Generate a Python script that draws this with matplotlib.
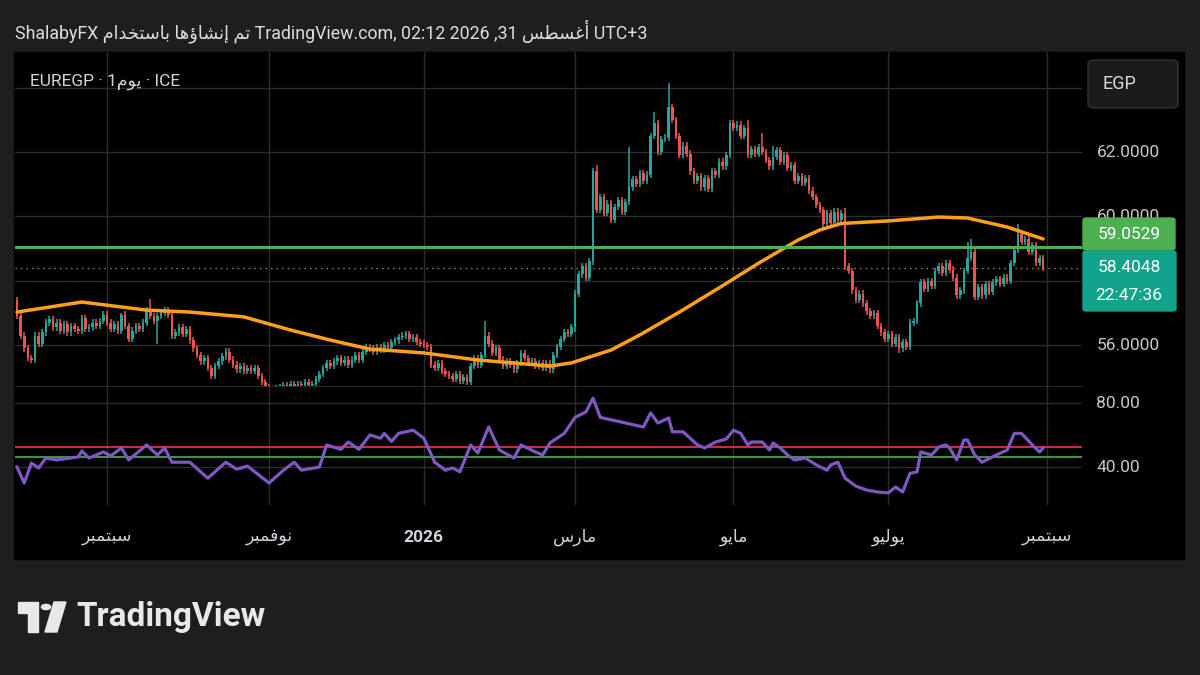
import numpy as np
import pandas as pd
import matplotlib
matplotlib.use("Agg")
import matplotlib.pyplot as plt
from matplotlib.patches import Rectangle, FancyBboxPatch, Polygon, Circle
from matplotlib.transforms import blended_transform_factory

# ---- data -------------------------------------------------------------------
FIRST_DAY = "2025-07-28"
FIRST_OPEN = 57.40

closes = [
    56.90, 56.30, 55.90, 55.60, 55.55, 56.30, 56.05, 56.40, 56.70, 56.80,
    56.55, 56.70, 56.45, 56.65, 56.40, 56.60, 56.50, 56.45, 56.85, 56.50,
    56.55, 56.70, 56.60, 56.75, 56.95, 56.70, 56.50, 56.65, 56.45, 56.95,
    56.60, 56.20, 56.45, 56.60, 56.50, 56.70, 57.10, 56.90, 56.75, 56.90,
    57.00, 57.10, 56.95, 56.30, 56.40, 56.55, 56.35, 56.50, 56.15, 55.90,
    55.70, 55.50, 55.60, 55.30, 55.05, 55.35, 55.50, 55.65, 55.80, 55.55,
    55.40, 55.25, 55.35, 55.20, 55.30, 55.20, 55.30, 55.05, 54.85, 54.70,
    54.60, 54.55, 54.65, 54.70, 54.75, 54.65, 54.80, 54.70, 54.80, 54.75,
    54.85, 54.75, 54.80, 54.95, 55.10, 55.30, 55.45, 55.35, 55.50, 55.60,
    55.45, 55.55, 55.40, 55.55, 55.70, 55.55, 55.80, 55.95, 55.90, 55.80,
    55.95, 55.85, 56.00, 55.90, 56.10, 56.15, 56.25, 56.30, 56.35, 56.20,
    56.25, 56.10, 56.05, 56.00, 55.95, 55.40, 55.30, 55.45, 55.20, 55.10,
    55.05, 54.95, 55.10, 54.90, 55.00, 54.85, 55.35, 55.60, 55.40, 55.70,
    56.30, 56.05, 55.75, 55.90, 55.55, 55.35, 55.50, 55.40, 55.25, 55.45,
    55.75, 55.60, 55.45, 55.50, 55.35, 55.45, 55.30, 55.45, 55.25, 55.70,
    55.95, 56.20, 56.40, 56.35, 56.55, 57.60, 58.20, 58.45, 58.10, 58.60,
    61.40, 60.20, 60.60, 60.10, 60.40, 59.90, 60.30, 60.50, 60.15, 60.45,
    60.90, 61.15, 61.00, 61.35, 61.10, 61.30, 62.50, 62.90, 62.00, 62.40,
    62.45, 63.40, 63.00, 62.50, 61.90, 62.20, 61.95, 61.40, 61.10, 61.25,
    60.90, 61.20, 60.85, 61.40, 61.30, 61.70, 61.55, 61.90, 62.90, 62.75,
    62.85, 62.50, 62.75, 61.90, 62.10, 61.95, 62.15, 62.00, 61.75, 61.55,
    61.85, 62.05, 61.70, 61.90, 61.50, 61.60, 61.10, 61.25, 61.05, 61.20,
    60.80, 60.60, 60.35, 60.20, 59.75, 60.10, 59.80, 60.15, 59.90, 60.10,
    58.45, 58.30, 57.70, 57.40, 57.60, 57.30, 57.05, 56.90, 57.00, 56.60,
    56.40, 56.20, 56.35, 56.05, 56.25, 55.90, 56.10, 55.95, 56.70, 56.75,
    57.30, 57.95, 57.75, 58.00, 57.85, 58.30, 58.45, 58.25, 58.55, 58.35,
    58.10, 57.55, 57.70, 58.30, 58.70, 58.90, 57.50, 57.80, 57.55, 57.90,
    57.65, 57.95, 58.05, 57.90, 58.10, 58.00, 58.55, 58.95, 59.45, 59.20,
    59.30, 58.90, 59.10, 58.55, 58.70, 58.4048,
]

WICK = 0.10   # usual wick length beyond the body
high_wicks = {0: 57.50, 29: 57.00, 37: 57.45, 130: 56.75, 161: 61.60, 170: 62.15,
              177: 63.25, 181: 64.15, 198: 63.00, 203: 63.00, 207: 62.60,
              210: 62.20, 230: 60.25, 264: 59.20, 265: 59.30, 278: 59.75}
low_wicks = {39: 56.05, 155: 56.40, 245: 55.75}

# moving average (bar, value)
ma_bars = [0, 18, 36, 48, 63, 76, 87, 98, 113, 128, 141, 148, 154, 165, 173,
           184, 195, 206, 217, 223, 229, 242, 256, 264, 275, 285]
ma_vals = [57.03, 57.34, 57.09, 57.03, 56.88, 56.47, 56.16, 55.88, 55.76, 55.54,
           55.42, 55.35, 55.45, 55.85, 56.32, 57.03, 57.78, 58.55, 59.27, 59.58,
           59.78, 59.86, 59.98, 59.95, 59.67, 59.30]

# RSI (bar, value)
rsi_bars = [0, 2, 4, 6, 8, 11, 17, 18, 20, 24, 26, 29, 31, 36, 39, 41, 43, 48, 53,
            58, 61, 64, 70, 74, 77, 79, 84, 86, 90, 92, 95, 98, 101, 102, 104, 106,
            110, 113, 116, 119, 121, 123, 126, 128, 131, 134, 138, 140, 144, 146,
            148, 152, 155, 158, 160, 162, 168, 174, 176, 178, 181, 182, 185, 189,
            191, 194, 197, 199, 201, 203, 204, 207, 209, 210, 212, 214, 216, 219,
            222, 225, 226, 228, 230, 233, 236, 239, 242, 244, 246, 248, 250, 251,
            254, 256, 258, 259, 261, 263, 264, 266, 268, 272, 275, 277, 279, 282,
            284, 285]
rsi_vals = [40, 30, 42.5, 39.4, 45.6, 44.4, 46.3, 50, 45.6, 49.4, 46.9, 51.9, 44.4,
            53.8, 47.5, 51.9, 43, 43, 33, 43, 38.6, 40.6, 30, 38, 43, 38, 40, 53.8,
            51, 55.6, 51, 60, 58, 61, 56, 61, 63, 58, 43, 38, 39.4, 37, 53.8, 48.8,
            65, 50.6, 45.6, 53.8, 49.4, 47.5, 55, 61, 71, 74.4, 83, 71, 68, 65,
            73.8, 67.5, 70.6, 62, 62, 53.8, 51.9, 55.6, 57.5, 63, 61, 53.8, 55.6,
            55.6, 50.6, 55, 51.9, 47.5, 44.4, 45.6, 41.3, 38, 41.3, 43, 33, 28,
            25.6, 24.4, 23.8, 27.5, 24.4, 36, 37, 49.4, 47.5, 52.5, 53.8, 51.9,
            44.4, 56.9, 56.9, 47.5, 43, 47.5, 50.6, 61, 61, 53.8, 49.4, 51.9]
RSI_UPPER = 52.7
RSI_LOWER = 46.4

level_price = 59.0529
last_price = 58.4048
countdown = "22:47:36"

month_starts = ["2025-09-01", "2025-11-01", "2026-01-01", "2026-03-01",
                "2026-05-01", "2026-07-01", "2026-09-01"]
month_names = ["سبتمبر", "نوفمبر", "2026", "مارس", "مايو", "يوليو", "سبتمبر"]
price_ticks = [62, 60, 56]
rsi_ticks = [80, 40]

# ---- minimal arabic shaping (matplotlib draws glyphs left to right) ---------
FORMS = {
    'ا': ('\uFE8D', '\uFE8E', None, None), 'أ': ('\uFE83', '\uFE84', None, None),
    'إ': ('\uFE87', '\uFE88', None, None), 'ؤ': ('\uFE85', '\uFE86', None, None),
    'ب': ('\uFE8F', '\uFE90', '\uFE91', '\uFE92'), 'ت': ('\uFE95', '\uFE96', '\uFE97', '\uFE98'),
    'خ': ('\uFEA5', '\uFEA6', '\uFEA7', '\uFEA8'), 'د': ('\uFEA9', '\uFEAA', None, None),
    'ر': ('\uFEAD', '\uFEAE', None, None), 'س': ('\uFEB1', '\uFEB2', '\uFEB3', '\uFEB4'),
    'ش': ('\uFEB5', '\uFEB6', '\uFEB7', '\uFEB8'), 'ط': ('\uFEC1', '\uFEC2', '\uFEC3', '\uFEC4'),
    'غ': ('\uFECD', '\uFECE', '\uFECF', '\uFED0'), 'ف': ('\uFED1', '\uFED2', '\uFED3', '\uFED4'),
    'ل': ('\uFEDD', '\uFEDE', '\uFEDF', '\uFEE0'), 'م': ('\uFEE1', '\uFEE2', '\uFEE3', '\uFEE4'),
    'ن': ('\uFEE5', '\uFEE6', '\uFEE7', '\uFEE8'), 'ه': ('\uFEE9', '\uFEEA', '\uFEEB', '\uFEEC'),
    'و': ('\uFEED', '\uFEEE', None, None), 'ي': ('\uFEF1', '\uFEF2', '\uFEF3', '\uFEF4'),
}


def ar(text):
    if not any(ch in FORMS for ch in text):
        return text
    out = []
    for k, ch in enumerate(text):
        if ch not in FORMS:
            out.append(ch)
            continue
        prev = text[k - 1] if k > 0 else ''
        nxt = text[k + 1] if k + 1 < len(text) else ''
        jp = prev in FORMS and FORMS[prev][2] is not None
        jn = nxt in FORMS and FORMS[ch][2] is not None
        iso, fin, ini, med = FORMS[ch]
        out.append(med if (jp and jn) else fin if jp else ini if jn else iso)
    return ''.join(out)[::-1]


FONT = ['Roboto', 'DejaVu Sans']
TXT = '#d1d4dc'
GRID = '#2c2c2c'
UP, DOWN = '#26a69a', '#ef5350'
W, H = 1200, 675


def fx(x):
    return x / W


def fy(y):
    return 1 - y / H


fig = plt.figure(figsize=(12, 6.75), dpi=100, facecolor='#1e1e1e')
fig.add_artist(Rectangle((fx(14), fy(559)), fx(1184 - 14), (559 - 52) / H,
                         transform=fig.transFigure, color='#000000', zorder=0))

L, R = 15, 1082
ax = fig.add_axes([fx(L), fy(386), fx(R - L), (386 - 52) / H])
ax2 = fig.add_axes([fx(L), fy(505), fx(R - L), (505 - 386) / H])
for a in (ax, ax2):
    a.set_facecolor('#000000')
    for s in a.spines.values():
        s.set_visible(False)
    a.set_xticks([])
    a.set_yticks([])
    a.set_xlim(-0.56, 295.8)
ax.set_ylim(54.733, 65.106)
ax2.set_ylim(16.25, 90.625)

dates = pd.bdate_range(FIRST_DAY, "2026-09-01")
tick_pos = dates.searchsorted(pd.to_datetime(month_starts))

# grid
for a in (ax, ax2):
    for p in tick_pos:
        a.axvline(p, color=GRID, lw=1, zorder=1)
for v in [64] + price_ticks + [58]:
    ax.axhline(v, color=GRID, lw=1, zorder=1)
for v in rsi_ticks:
    ax2.axhline(v, color=GRID, lw=1, zorder=1)
ax2.axhline(90.625, color='#333333', lw=1.2, zorder=1)

# candles
c = np.array(closes)
n = len(c)
x = np.arange(n)
o = np.r_[FIRST_OPEN, c[:-1]]
hi = np.maximum(o, c) + WICK
lo = np.minimum(o, c) - WICK
for k, v in high_wicks.items():
    hi[k] = v
for k, v in low_wicks.items():
    lo[k] = v
cols = np.where(c >= o, UP, DOWN)
ax.vlines(x, lo, hi, colors=cols, lw=1.1, zorder=3)
ax.bar(x, np.maximum(np.abs(c - o), 0.03), bottom=np.minimum(o, c), width=0.72,
       color=cols, zorder=3, linewidth=0)

ax.plot(ma_bars, ma_vals, color='#ff9f1c', lw=2.5, zorder=4, solid_capstyle='round')
ax.axhline(level_price, color='#4caf50', lw=2.2, zorder=5)
ax.axhline(last_price, color='#8a8a8a', lw=1, ls=(0, (1, 3)), zorder=2)

ax2.axhline(RSI_UPPER, color='#f23645', lw=1.2, zorder=3)
ax2.axhline(RSI_LOWER, color='#4caf50', lw=1.2, zorder=3)
ax2.plot(rsi_bars, rsi_vals, color='#7e57c2', lw=2.3, zorder=4)

# right scale
tr = blended_transform_factory(ax.transAxes, ax.transData)
for v in price_ticks:
    ax.text(1.0135, v, f"{v:.4f}", transform=tr, color='#c8c8c8', fontsize=12.5,
            family=FONT, va='center', ha='left', clip_on=False)
tr2 = blended_transform_factory(ax2.transAxes, ax2.transData)
for v in rsi_ticks:
    ax2.text(1.0135, v, f"{v:.2f}", transform=tr2, color='#c8c8c8', fontsize=12.5,
             family=FONT, va='center', ha='left', clip_on=False)

fig.add_artist(FancyBboxPatch((fx(1083), fy(250)), fx(92), 32 / H,
                              boxstyle="round,pad=0,rounding_size=0.003",
                              transform=fig.transFigure, color='#4caf50', zorder=6))
fig.text(fx(1129), fy(235), f"{level_price:.4f}", color='white', fontsize=12.5,
         family=FONT, ha='center', va='center', zorder=7)
fig.add_artist(FancyBboxPatch((fx(1083), fy(311)), fx(93), 60 / H,
                              boxstyle="round,pad=0,rounding_size=0.003",
                              transform=fig.transFigure, color='#12a38a', zorder=6))
fig.text(fx(1129), fy(268), f"{last_price:.4f}", color='white', fontsize=12.5,
         family=FONT, ha='center', va='center', zorder=7)
fig.text(fx(1129), fy(295), countdown, color='white', fontsize=12.5,
         family=FONT, ha='center', va='center', zorder=7)

fig.add_artist(FancyBboxPatch((fx(1088), fy(108)), fx(90), 48 / H,
                              boxstyle="round,pad=0,rounding_size=0.006",
                              transform=fig.transFigure, facecolor='#1b1b1b',
                              edgecolor='#333333', lw=1, zorder=6))
fig.text(fx(1103), fy(84), "EGP", color='#d9d9d9', fontsize=13, family=FONT,
         ha='left', va='center', zorder=7)

# time axis labels
trx = blended_transform_factory(ax2.transData, ax2.transAxes)
for p, name in zip(tick_pos, month_names):
    bold = name.isdigit()
    ax2.text(p, -0.27, ar(name), transform=trx, color=TXT, fontsize=12.5,
             family=FONT, ha='center', va='center', clip_on=False,
             fontweight='bold' if bold else 'normal')

# header texts
title = ("ShalabyFX " + ar("تم إنشاؤها باستخدام") + " TradingView.com, 02:12 2026 ,31 "
         + ar("أغسطس") + " UTC+3")
fig.text(fx(15), fy(31), title, color='#dddddd', fontsize=12.8, family=FONT,
         ha='left', va='center')
fig.text(fx(30), fy(82), "EUREGP · 1" + ar("يوم") + " · ICE", color=TXT,
         fontsize=12.5, family=FONT, ha='left', va='center', zorder=7)

# TradingView logo
logo = '#e8e8e8'
fig.add_artist(Polygon([(fx(18), fy(602)), (fx(38), fy(602)), (fx(38), fy(632)),
                        (fx(28), fy(632)), (fx(28), fy(613)), (fx(18), fy(613))],
                       closed=True, transform=fig.transFigure, color=logo))
fig.add_artist(Circle((fx(46), fy(607)), 4.6 / W, transform=fig.transFigure, color=logo))
fig.add_artist(Polygon([(fx(54), fy(602)), (fx(66), fy(602)), (fx(57), fy(632)),
                        (fx(45), fy(632))], closed=True, transform=fig.transFigure,
                       color=logo))
fig.text(fx(76), fy(617), "TradingView", color=logo, fontsize=24, family=FONT,
         fontweight='bold', ha='left', va='center')

fig.savefig("out.png", dpi=100, facecolor=fig.get_facecolor())
